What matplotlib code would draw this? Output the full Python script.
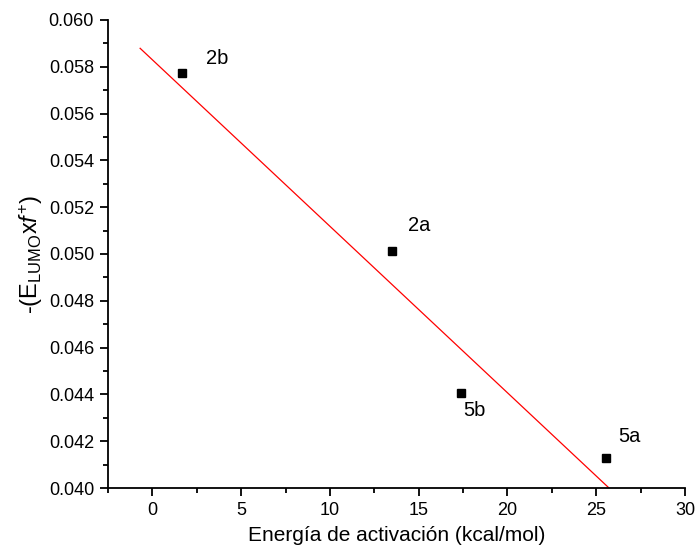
import matplotlib
matplotlib.use("Agg")
import matplotlib.pyplot as plt
from matplotlib.ticker import MultipleLocator, FormatStrFormatter

plt.rcParams['font.family'] = ['Liberation Sans', 'DejaVu Sans']
plt.rcParams['mathtext.fontset'] = 'custom'
plt.rcParams['mathtext.rm'] = 'Liberation Sans'
plt.rcParams['mathtext.it'] = 'Liberation Sans:italic'

# data
labels = ['2b', '2a', '5b', '5a']
energy = [1.67, 13.49, 17.36, 25.55]
elumo_f = [0.05775, 0.05014, 0.04405, 0.04130]
fit_x = [-0.69, 25.72]
fit_y = [0.05879, 0.04000]
label_offsets = [(35, 14), (27, 25), (14, -17), (23, 21)]  # pixels

fig = plt.figure(figsize=(6.96, 5.58), dpi=100)
ax = fig.add_axes([108/696, 1 - 488/558, (685 - 108)/696, (488 - 20)/558])

ax.plot(fit_x, fit_y, color='red', lw=0.9, zorder=2)
ax.plot(energy, elumo_f, linestyle='none', marker='s', color='black', ms=6.3, zorder=3)
for lab, x, y, (dx, dy) in zip(labels, energy, elumo_f, label_offsets):
    ax.annotate(lab, (x, y), xytext=(dx * 0.72, dy * 0.72), textcoords='offset points',
                ha='center', va='center', fontsize=14.5)

ax.set_xlim(-2.5, 30)
ax.set_ylim(0.040, 0.060)
ax.xaxis.set_major_locator(MultipleLocator(5))
ax.xaxis.set_minor_locator(MultipleLocator(2.5))
ax.yaxis.set_major_locator(MultipleLocator(0.002))
ax.yaxis.set_minor_locator(MultipleLocator(0.001))
ax.yaxis.set_major_formatter(FormatStrFormatter('%.3f'))

for s in ['top', 'right']:
    ax.spines[s].set_visible(False)
for s in ['left', 'bottom']:
    ax.spines[s].set_linewidth(1.3)
ax.tick_params(which='major', direction='out', length=6, width=1.3, labelsize=13, pad=4)
ax.tick_params(which='minor', direction='out', length=3.5, width=1.3)

ax.set_xlabel('Energía de activación (kcal/mol)', fontsize=15, labelpad=5)
ax.set_ylabel(r'-(E$_{\mathrm{LUMO}}$x$\mathit{f}^{+}$)', fontsize=17, labelpad=3)

fig.savefig('out.png', dpi=100)
